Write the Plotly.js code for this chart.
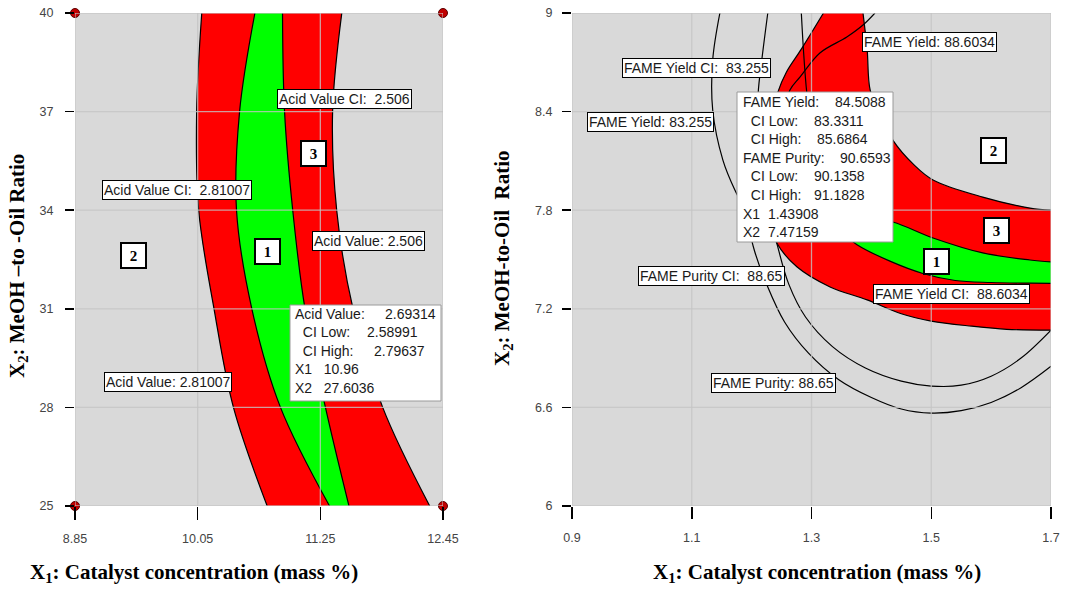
<!DOCTYPE html>
<html><head><meta charset="utf-8">
<script src="https://cdn.plot.ly/plotly-3.0.1.min.js"></script>
<style>html,body{margin:0;padding:0;background:#fff}#chart{width:1065px;height:591px}</style>
</head><body><div id="chart"></div>
<script>
// ---------------- LEFT PANEL: Acid value overlay ----------------
const leftY          = [40, 37, 34, 31, 28, 25];
const avOuterLeftX   = [10.09, 10.04, 10.06, 10.21, 10.40, 10.73];
const avGreenLeftX   = [10.61, 10.46, 10.43, 10.58, 10.86, 11.34];
const avGreenRightX  = [10.88, 10.90, 10.98, 11.10, 11.30, 11.53];
const avOuterRightX  = [11.46, 11.37, 11.41, 11.57, 11.86, 12.32];
const leftCornerX    = [8.85, 12.45, 8.85, 12.45];
const leftCornerY    = [40, 40, 25, 25];
const leftXTicks     = [8.85, 10.05, 11.25, 12.45];
const leftXTickText  = ['8.85', '10.05', '11.25', '12.45'];
const leftYTicks     = [25, 28, 31, 34, 37, 40];
const leftYTickText  = ['25', '28', '31', '34', '37', '40'];
const leftContourText = ['Acid Value CI:\u00a0 2.506', 'Acid Value CI:\u00a0 2.81007', 'Acid Value: 2.506', 'Acid Value: 2.81007'];
const leftTipLabels  = ['Acid Value:', '\u00a0\u00a0CI Low:', '\u00a0\u00a0CI High:', 'X1\u00a0\u00a0 10.96', 'X2\u00a0\u00a0 27.6036'];
const leftTipValues  = ['2.69314', '2.58991', '2.79637', '', ''];
const leftRegionText = ['1', '2', '3'];

// ---------------- RIGHT PANEL: FAME yield / purity overlay ----------------
const redInnerX   = [1.32, 1.283, 1.258, 1.244, 1.228, 1.222, 1.228, 1.242, 1.276, 1.331, 1.393, 1.45, 1.50, 1.568, 1.626, 1.70];
const redInnerY   = [9.0, 8.78, 8.64, 8.52, 8.25, 7.95, 7.75, 7.60, 7.454, 7.333, 7.254, 7.17, 7.125, 7.094, 7.075, 7.07];
const redOuterX   = [1.386, 1.393, 1.398, 1.415, 1.437, 1.47, 1.503, 1.586, 1.665, 1.70];
const redOuterY   = [9.0, 8.775, 8.531, 8.38, 8.22, 8.08, 7.984, 7.88, 7.813, 7.80];
const greenLowerX = [1.314, 1.345, 1.376, 1.431, 1.486, 1.54, 1.60, 1.665, 1.70];
const greenLowerY = [7.77, 7.68, 7.59, 7.49, 7.415, 7.372, 7.36, 7.356, 7.355];
const greenUpperX = [1.314, 1.38, 1.436, 1.503, 1.586, 1.665, 1.70];
const greenUpperY = [7.77, 7.765, 7.728, 7.631, 7.54, 7.497, 7.485];
const yield83X    = [1.147, 1.135, 1.135, 1.152, 1.172, 1.19];
const yield83Y    = [9.0, 8.714, 8.41, 8.105, 7.923, 7.80];
const yield83CIX  = [1.227, 1.217, 1.211, 1.212, 1.22];
const yield83CIY  = [9.0, 8.714, 8.513, 8.30, 8.10];
const yieldMidX   = [1.283, 1.287, 1.292, 1.30];
const yieldMidY   = [9.0, 8.75, 8.52, 8.30];
const yield88X    = [1.406, 1.386, 1.359, 1.314, 1.281, 1.264, 1.25];
const yield88Y    = [9.0, 8.927, 8.854, 8.757, 8.611, 8.531, 8.35];
const purityX     = [1.195, 1.205, 1.225, 1.255, 1.295, 1.345, 1.40, 1.45, 1.50, 1.55, 1.60, 1.65, 1.70];
const purityY     = [7.70, 7.55, 7.35, 7.12, 6.93, 6.77, 6.66, 6.59, 6.565, 6.58, 6.63, 6.72, 6.85];
const purityCIX   = [1.235, 1.242, 1.262, 1.29, 1.335, 1.39, 1.45, 1.50, 1.55, 1.60, 1.65, 1.70];
const purityCIY   = [7.70, 7.60, 7.35, 7.15, 6.97, 6.84, 6.76, 6.73, 6.735, 6.79, 6.90, 7.07];
const rightXTicks    = [0.9, 1.1, 1.3, 1.5, 1.7];
const rightXTickText = ['0.9', '1.1', '1.3', '1.5', '1.7'];
const rightYTicks    = [6, 6.6, 7.2, 7.8, 8.4, 9];
const rightYTickText = ['6', '6.6', '7.2', '7.8', '8.4', '9'];
const rightContourText = ['FAME Yield CI:\u00a0 83.255', 'FAME Yield: 83.255', 'FAME Yield: 88.6034', 'FAME Purity CI:\u00a0 88.65', 'FAME Yield CI:\u00a0 88.6034', 'FAME Purity: 88.65'];
const rightTipLabels = ['FAME Yield:', '\u00a0\u00a0CI Low:', '\u00a0\u00a0CI High:', 'FAME Purity:', '\u00a0\u00a0CI Low:', '\u00a0\u00a0CI High:', 'X1\u00a0 1.43908', 'X2\u00a0 7.47159'];
const rightTipValues = ['84.5088', '83.3311', '85.6864', '90.6593', '90.1358', '91.1828', '', ''];
const rightRegionText = ['1', '2', '3'];

// ---------------- styling ----------------
const RED = '#ff0000', GREEN = '#00ff00', GRID = 'rgba(196,196,196,0.8)';
const SANS = 'Liberation Sans, Arial, sans-serif';
const SERIF = 'Liberation Serif, Times New Roman, serif';
const W = 1065, H = 591;
const PX = v => v / W, PY = v => 1 - v / H;

const traces = [];
function curve(x, y, xa, ya, fill, fillcolor) {
  const t = {type: 'scatter', mode: 'lines', x: x, y: y, xaxis: xa, yaxis: ya,
    line: {color: '#000', width: 1.2, shape: 'spline', smoothing: 1},
    hoverinfo: 'skip', showlegend: false};
  if (fill) { t.fill = fill; t.fillcolor = fillcolor; }
  return t;
}
// left panel regions
traces.push(curve(avOuterLeftX, leftY, 'x', 'y'));
traces.push(curve(avOuterRightX, leftY, 'x', 'y', 'tonextx', RED));
traces.push(curve(avGreenLeftX, leftY, 'x', 'y'));
traces.push(curve(avGreenRightX, leftY, 'x', 'y', 'tonextx', GREEN));
traces.push({type: 'scatter', mode: 'markers', x: leftCornerX, y: leftCornerY, xaxis: 'x', yaxis: 'y',
  marker: {size: 9, color: '#c00000', line: {color: '#5a0000', width: 1}}, cliponaxis: false,
  hoverinfo: 'skip', showlegend: false});
// right panel regions
traces.push(curve(redInnerX, redInnerY, 'x2', 'y2'));
traces.push(curve(redOuterX, redOuterY, 'x2', 'y2', 'tonextx', RED));
traces.push(curve(greenLowerX, greenLowerY, 'x2', 'y2'));
traces.push(curve(greenUpperX, greenUpperY, 'x2', 'y2', 'tonextx', GREEN));
[[yield83X, yield83Y], [yield83CIX, yield83CIY], [yieldMidX, yieldMidY], [yield88X, yield88Y],
 [purityX, purityY], [purityCIX, purityCIY]].forEach(p => traces.push(curve(p[0], p[1], 'x2', 'y2')));

// gridlines drawn above the regions (as in the reference)
const shapes = [];
function grid(xa, ya, xt, yt) {
  xt.forEach(v => shapes.push({type: 'line', layer: 'above', xref: xa, yref: ya + ' domain', x0: v, x1: v, y0: 0, y1: 1, line: {color: GRID, width: 1.3}}));
  yt.forEach(v => shapes.push({type: 'line', layer: 'above', xref: xa + ' domain', yref: ya, x0: 0, x1: 1, y0: v, y1: v, line: {color: GRID, width: 1.3}}));
}
grid('x', 'y', leftXTicks, leftYTicks);
grid('x2', 'y2', rightXTicks, rightYTicks);
// tooltip boxes
function rectPx(x0, x1, y0, y1) {
  shapes.push({type: 'rect', layer: 'above', xref: 'paper', yref: 'paper', x0: PX(x0), x1: PX(x1), y0: PY(y1), y1: PY(y0),
    fillcolor: '#ffffff', line: {color: '#9a9a9a', width: 1}});
}
rectPx(290, 441, 305, 401);
rectPx(737, 893, 92, 242);

// annotations
const ann = [];
function txt(text, x, y, opts) {
  return Object.assign({text: text, x: PX(x), y: PY(y), xref: 'paper', yref: 'paper', showarrow: false,
    font: {family: SANS, size: 14, color: '#1a1a1a'}}, opts || {});
}
function boxed(text, x, y, xanchor) {
  return txt(text, x, y, {xanchor: xanchor || 'center', yanchor: 'middle', bgcolor: '#ffffff',
    bordercolor: '#000', borderwidth: 1, borderpad: 1});
}
function square(text, x, y) {
  return txt('<b>' + text + '</b>', x, y, {xanchor: 'center', yanchor: 'middle', bgcolor: '#ffffff',
    bordercolor: '#000', borderwidth: 2, borderpad: 0, width: 23, height: 23,
    font: {family: SERIF, size: 15, color: '#000'}});
}
// left contour labels
ann.push(boxed(leftContourText[0], 344, 99));
ann.push(boxed(leftContourText[1], 252, 190, 'right'));
ann.push(boxed(leftContourText[2], 312, 241.5, 'left'));
ann.push(boxed(leftContourText[3], 168, 381.5));
// left tooltip
leftTipLabels.forEach((t, i) => {
  ann.push(txt(t, 293, 314 + 18.4 * i, {xanchor: 'left', yanchor: 'middle'}));
});
const leftValX = [383, 365, 372];
leftTipValues.forEach((t, i) => { if (t) ann.push(txt(t, leftValX[i], 314 + 18.4 * i, {xanchor: 'left', yanchor: 'middle'})); });
// left region numbers
ann.push(square(leftRegionText[0], 267, 251));
ann.push(square(leftRegionText[1], 133, 255));
ann.push(square(leftRegionText[2], 313, 153));

// right contour labels
ann.push(boxed(rightContourText[0], 696, 68));
ann.push(boxed(rightContourText[1], 650, 122));
ann.push(boxed(rightContourText[2], 929, 42));
ann.push(boxed(rightContourText[3], 711, 276));
ann.push(boxed(rightContourText[4], 873, 293.5, 'left'));
ann.push(boxed(rightContourText[5], 773, 383));
// right tooltip
rightTipLabels.forEach((t, i) => {
  ann.push(txt(t, 741, 102 + 18.6 * i, {xanchor: 'left', yanchor: 'middle'}));
});
const rightValX = [833, 812, 815, 838, 812, 812];
rightTipValues.forEach((t, i) => { if (t) ann.push(txt(t, rightValX[i], 102 + 18.6 * i, {xanchor: 'left', yanchor: 'middle'})); });
// right region numbers
ann.push(square(rightRegionText[0], 936.5, 261));
ann.push(square(rightRegionText[1], 993, 150));
ann.push(square(rightRegionText[2], 996, 230));

// axis titles
const titleFont = {family: SERIF, size: 21, color: '#000'};
ann.push(txt('<b>X<sub>1</sub>: Catalyst concentration (mass %)</b>', 194, 573, {font: titleFont, xanchor: 'center', yanchor: 'middle'}));
ann.push(txt('<b>X<sub>1</sub>: Catalyst concentration (mass %)</b>', 817, 573, {font: titleFont, xanchor: 'center', yanchor: 'middle'}));
ann.push(txt('<b>X<sub>2</sub>: MeOH –to -Oil Ratio</b>', 18, 266, {font: titleFont, textangle: -90, xanchor: 'center', yanchor: 'middle'}));
ann.push(txt('<b>X<sub>2</sub>: MeOH-to-Oil\u00a0 Ratio</b>', 503, 258, {font: titleFont, textangle: -90, xanchor: 'center', yanchor: 'middle'}));

const tickFont = {family: SANS, size: 12.5, color: '#444'};
const axBase = {showgrid: false, zeroline: false, showline: false, ticks: 'outside', tickcolor: '#000',
  tickwidth: 1.5, tickfont: tickFont, fixedrange: true, tickmode: 'array'};
const yDom = [1 - 506 / H, 1 - 13 / H];
const layout = {
  width: W, height: H, margin: {l: 0, r: 0, t: 0, b: 0}, paper_bgcolor: '#ffffff', plot_bgcolor: '#d9d9d9',
  showlegend: false,
  xaxis: Object.assign({}, axBase, {domain: [75 / W, 443 / W], range: [8.85, 12.45], tickvals: leftXTicks, ticktext: leftXTickText, ticklen: 13, ticklabelstandoff: 8, anchor: 'y'}),
  yaxis: Object.assign({}, axBase, {domain: yDom, range: [25, 40], tickvals: leftYTicks, ticktext: leftYTickText, ticklen: 9, ticklabelstandoff: 9, anchor: 'x'}),
  xaxis2: Object.assign({}, axBase, {domain: [572 / W, 1051 / W], range: [0.9, 1.7], tickvals: rightXTicks, ticktext: rightXTickText, ticklen: 12, ticklabelstandoff: 8, anchor: 'y2'}),
  yaxis2: Object.assign({}, axBase, {domain: yDom, range: [6, 9], tickvals: rightYTicks, ticktext: rightYTickText, ticklen: 9, ticklabelstandoff: 7, anchor: 'x2'}),
  shapes: shapes,
  annotations: ann
};
Plotly.newPlot('chart', traces, layout, {displayModeBar: false, staticPlot: true});
</script></body></html>
